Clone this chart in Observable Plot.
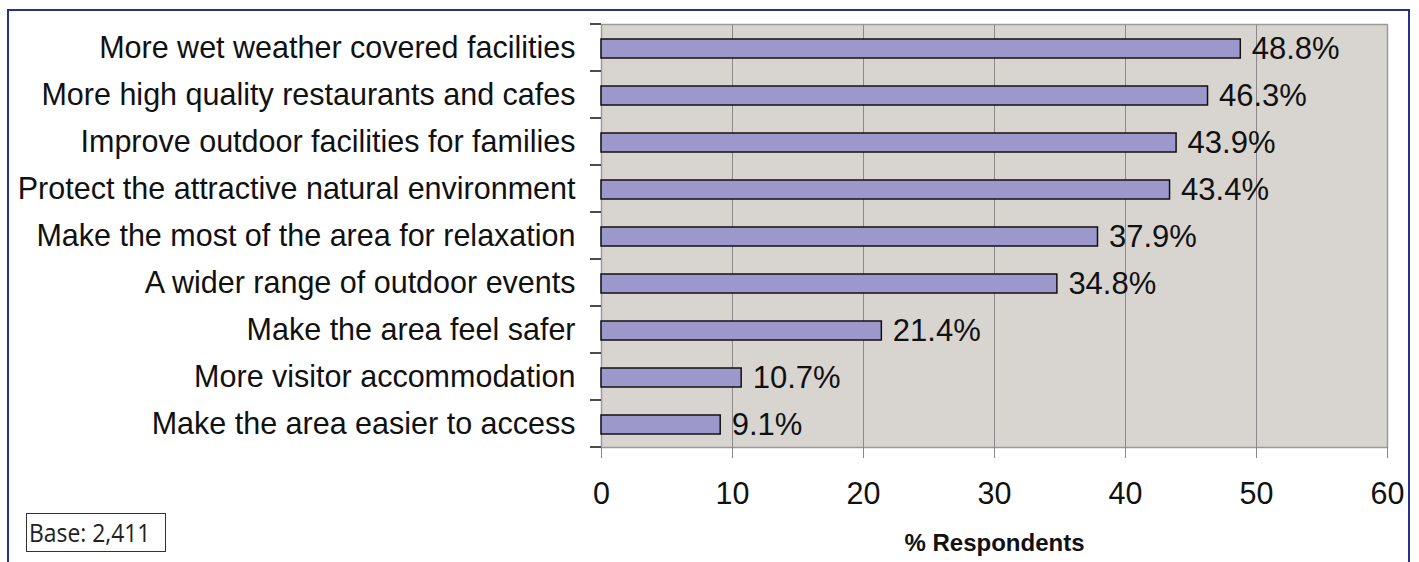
<!DOCTYPE html>
<html>
<head>
<meta charset="utf-8">
<script src="https://cdn.jsdelivr.net/npm/d3@7"></script>
<script src="https://cdn.jsdelivr.net/npm/@observablehq/plot@0.6"></script>
<style>
  html, body { margin: 0; padding: 0; background: #fff; overflow: hidden; }
  #wrap { position: relative; width: 1419px; height: 562px; overflow: hidden; }
  #border { position: absolute; left: 7px; top: 9px; width: 1403px; height: 700px; border: 2px solid #25318c; box-sizing: border-box; pointer-events: none; }
  #base { position: absolute; left: 26px; top: 513px; width: 140px; height: 39px; border: 1.5px solid #333; box-sizing: border-box; overflow: hidden;
          font-family: "Open Sans", sans-serif; font-size: 26px; line-height: 36px; color: #222; padding-left: 2px; white-space: nowrap; }
  #base span { display: inline-block; transform: scaleX(0.88); transform-origin: left center; }
</style>
</head>
<body>
<div id="wrap">
  <div id="chart"></div>
  <div id="border"></div>
  <div id="base"><span>Base: 2,411</span></div>
</div>
<script>
const categories = [
  "More wet weather covered facilities",
  "More high quality restaurants and cafes",
  "Improve outdoor facilities for families",
  "Protect the attractive natural environment",
  "Make the most of the area for relaxation",
  "A wider range of outdoor events",
  "Make the area feel safer",
  "More visitor accommodation",
  "Make the area easier to access"
];
const values = [48.8, 46.3, 43.9, 43.4, 37.9, 34.8, 21.4, 10.7, 9.1];
const xTicks = [0, 10, 20, 30, 40, 50, 60];
const xLabel = "% Respondents";

const data = categories.map((c, i) => ({cat: c, value: values[i]}));

const bandTicks = (index, scales, vals, dims) => {
  const g = d3.create("svg:g").attr("stroke", "#111").attr("stroke-width", 1.5);
  const ys = categories.map(c => scales.y(c));
  ys.push(dims.height - dims.marginBottom);
  for (const y of ys) {
    g.append("line")
      .attr("x1", dims.marginLeft - 11).attr("x2", dims.marginLeft)
      .attr("y1", y).attr("y2", y);
  }
  return g.node();
};

const chart = Plot.plot({
  width: 1419,
  height: 562,
  marginLeft: 601,
  marginRight: 32,
  marginTop: 24,
  marginBottom: 115,
  style: {fontFamily: "'Liberation Sans', Arial, sans-serif", background: "transparent", color: "#111"},
  x: {domain: [0, 60], ticks: xTicks, label: null},
  y: {domain: categories, padding: 0, label: null},
  marks: [
    Plot.frame({fill: "#d8d4d0", stroke: null}),
    Plot.gridX(xTicks.slice(1, -1), {stroke: "#8a8a8a", strokeOpacity: 1, strokeWidth: 1}),
    Plot.frame({stroke: "#9a9a9a", strokeWidth: 1.5}),
    Plot.barX(data, {x: "value", y: "cat", fill: "#9c98cc", stroke: "#111", strokeWidth: 1.5, insetTop: 15, insetBottom: 13}),
    Plot.text(data, {x: "value", y: "cat", text: d => d.value.toFixed(1) + "%", textAnchor: "start", dx: 11, dy: 1, fontSize: 31, fill: "#111"}),
    Plot.axisY({tickSize: 0, tickPadding: 26, fontSize: 30.5, label: null, fill: "#111"}),
    bandTicks,
    Plot.axisX({ticks: xTicks, tickSize: 11, tickPadding: 24, fontSize: 30.5, label: null, stroke: "#888", fill: "#111"}),
    Plot.text([xLabel], {frameAnchor: "bottom", dy: 103, fontSize: 24, fontWeight: "bold", fill: "#111", letterSpacing: "2px"})
  ]
});
document.getElementById("chart").appendChild(chart);
</script>
</body>
</html>
